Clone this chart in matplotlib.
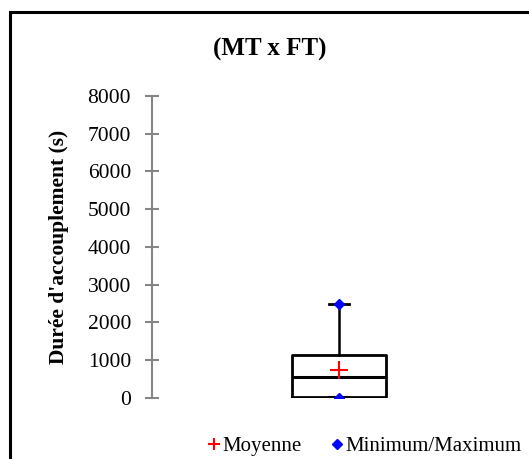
#!/usr/bin/env python3
"""Box plot of mating duration (MT x FT) -> out.png"""
import matplotlib.pyplot as plt
from matplotlib.lines import Line2D
from matplotlib.patches import Rectangle

plt.rcParams["font.family"] = ["Liberation Serif", "DejaVu Serif"]

# box statistics (seconds)
GROUP = "MT x FT"
Q1 = 20
MEDIAN = 550
Q3 = 1130
MIN_VAL = 10
MAX_VAL = 2480
MEAN = 750
YTICKS = [0, 1000, 2000, 3000, 4000, 5000, 6000, 7000, 8000]


def main():
    fig = plt.figure(figsize=(5.29, 4.59), dpi=100)
    ax = fig.add_axes([0.287, 0.133, 0.707, 0.658])

    stats = [{"med": MEDIAN, "q1": Q1, "q3": Q3,
              "whislo": Q1, "whishi": MAX_VAL, "label": GROUP}]
    ax.bxp(stats, positions=[0.5], widths=0.25, showfliers=False,
           boxprops=dict(color="black", linewidth=2.0),
           medianprops=dict(color="black", linewidth=2.2),
           whiskerprops=dict(color="black", linewidth=1.8),
           capprops=dict(color="black", linewidth=2.0), capwidths=0.055)

    ax.plot([0.5, 0.5], [MIN_VAL, MAX_VAL], linestyle="none", marker="D",
            color="#0000ff", markersize=5.5, zorder=5)
    ax.plot([0.5], [MEAN], linestyle="none", marker="+", color="#ff0000",
            markersize=13, markeredgewidth=1.5, zorder=5)

    ax.set_xlim(0, 1)
    ax.set_ylim(0, 8000)
    ax.set_yticks(YTICKS)
    ax.set_xticks([])
    for s in ["top", "right", "bottom"]:
        ax.spines[s].set_visible(False)
    ax.spines["left"].set_color("#868686")
    ax.spines["left"].set_linewidth(1.5)
    ax.tick_params(axis="y", direction="inout", length=10, width=1.5,
                   color="#868686", labelsize=15.5, pad=10)
    ax.set_ylabel("Durée d'accouplement (s)", fontsize=15.5,
                  fontweight="bold", labelpad=13)

    fig.text(0.51, 0.893, f"({GROUP})", ha="center", va="center",
             fontsize=18, fontweight="bold")

    handles = [
        Line2D([], [], linestyle="none", marker="+", color="#ff0000",
               markersize=9, markeredgewidth=1.5, label="Moyenne"),
        Line2D([], [], linestyle="none", marker="D", color="#0000ff",
               markersize=5, label="Minimum/Maximum"),
    ]
    fig.legend(handles=handles, loc="center", bbox_to_anchor=(0.69, 0.027),
               ncol=2, frameon=False, fontsize=15, handlelength=0.6,
               handletextpad=0.1, columnspacing=1.4)

    fig.patches.append(Rectangle((0.019, -0.1), 1.2, 1.073,
                                 transform=fig.transFigure, fill=False,
                                 edgecolor="black", linewidth=2.2))

    fig.savefig("out.png", dpi=100)
    plt.close(fig)


if __name__ == "__main__":
    main()
